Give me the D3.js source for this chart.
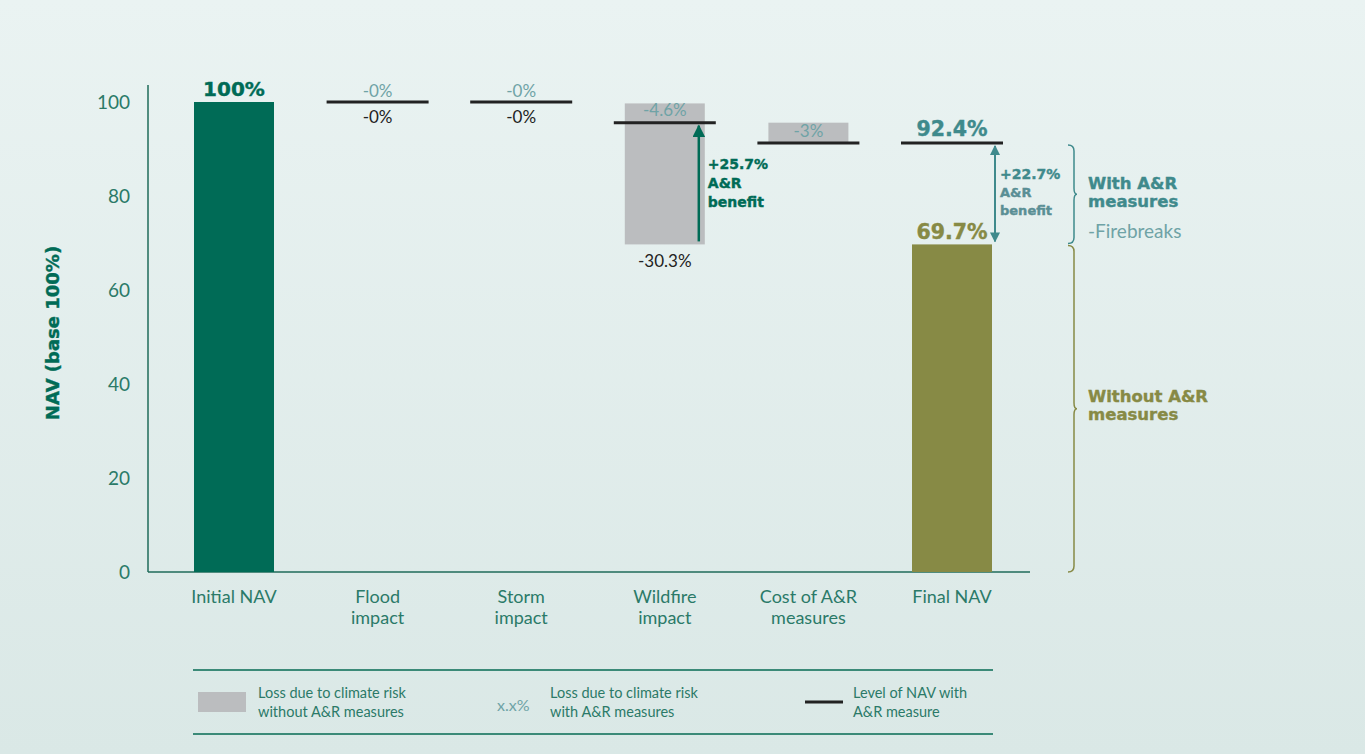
<!DOCTYPE html>
<html><head><meta charset="utf-8">
<script src="https://cdn.jsdelivr.net/npm/d3@7"></script>
<style>
html,body{margin:0;padding:0;}
body{width:1365px;height:754px;overflow:hidden;}
svg text{font-family:Lato,"Open Sans",sans-serif;}
svg text.b{font-family:"DejaVu Sans",sans-serif;font-weight:bold;stroke-width:0.4px;}
</style></head>
<body>
<svg id="c" width="1365" height="754"></svg>
<script>
const categories = ["Initial NAV","Flood impact","Storm impact","Wildfire impact","Cost of A&R measures","Final NAV"];
const categoryLines = [["Initial NAV"],["Flood","impact"],["Storm","impact"],["Wildfire","impact"],["Cost of A&R","measures"],["Final NAV"]];
const solidValues = [100, null, null, null, null, 69.7];
const grayFrom = [null, null, null, 99.7, 95.6, null];
const grayTo = [null, null, null, 69.7, 91.3, null];
const levelWith = [null, 100, 100, 95.6, 91.3, 91.3];
const lossWithLabels = [null, "-0%", "-0%", "-4.6%", "-3%", null];
const lossWithoutLabels = [null, "-0%", "-0%", "-30.3%", null, null];
const valueLabels = ["100%", null, null, null, null, "69.7%"];
const finalWithLabel = "92.4%";
const yTicks = [0, 20, 40, 60, 80, 100];
const benefitWildfire = {value: "+25.7%", from: 69.7, to: 95.6};
const benefitFinal = {value: "+22.7%", from: 69.7, to: 91.3};

const svg = d3.select("#c");
const defs = svg.append("defs");
const g = defs.append("linearGradient").attr("id","bg").attr("x1",0).attr("y1",0).attr("x2",0).attr("y2",1);
g.append("stop").attr("offset","0%").attr("stop-color","#eaf3f2");
g.append("stop").attr("offset","100%").attr("stop-color","#dae8e6");
svg.append("rect").attr("width",1365).attr("height",754).attr("fill","url(#bg)");

const GREEN="#006b56", TEAL="#3f8a8c", LTEAL="#6fa3a6", OLIVE="#878a45", GRAY="#bbbdbf", AXC="#2b7a68";

const y = d3.scaleLinear().domain([0,100]).range([572,102]);
const x = d3.scalePoint().domain(categories).range([234,952]);
const barW = 80, lineW = 102;

function bold(sel, color){ return sel.attr("class","b").attr("fill",color).attr("stroke",color); }

// y axis
const yAxis = d3.axisLeft(y).tickValues(yTicks).tickSize(0).tickPadding(18);
const ya = svg.append("g").attr("transform","translate(148,0)").call(yAxis);
ya.select(".domain").remove();
ya.selectAll("text").attr("fill",AXC).attr("font-size",19).style("font-family","Lato,sans-serif");
svg.append("line").attr("x1",148).attr("x2",148).attr("y1",85).attr("y2",y(0)).attr("stroke","#1f6b5a").attr("stroke-width",1.5);
svg.append("line").attr("x1",148).attr("x2",1030).attr("y1",y(0)).attr("y2",y(0)).attr("stroke","#1f6b5a").attr("stroke-width",1.5);

bold(svg.append("text"),GREEN).attr("transform","translate(59,333) rotate(-90)").attr("text-anchor","middle")
  .attr("font-size",18).text("NAV (base 100%)");

// category labels
categories.forEach((c,i)=>{
  const t = svg.append("text").attr("x",x(c)).attr("y",603).attr("text-anchor","middle").attr("fill",AXC).attr("font-size",18);
  categoryLines[i].forEach((l,j)=>t.append("tspan").attr("x",x(c)).attr("dy",j?21:0).text(l));
});

// gray loss bars
categories.forEach((c,i)=>{
  if(grayFrom[i]!=null){
    svg.append("rect").attr("x",x(c)-barW/2).attr("width",barW)
      .attr("y",y(grayFrom[i])).attr("height",y(grayTo[i])-y(grayFrom[i])).attr("fill",GRAY);
  }
});
// solid bars
categories.forEach((c,i)=>{
  if(solidValues[i]!=null){
    svg.append("rect").attr("x",x(c)-barW/2).attr("width",barW)
      .attr("y",y(solidValues[i])).attr("height",y(0)-y(solidValues[i])).attr("fill",i===0?GREEN:OLIVE);
  }
});
// level lines
categories.forEach((c,i)=>{
  if(levelWith[i]!=null){
    svg.append("line").attr("x1",x(c)-lineW/2).attr("x2",x(c)+lineW/2)
      .attr("y1",y(levelWith[i])).attr("y2",y(levelWith[i])).attr("stroke","#222").attr("stroke-width",3);
  }
});
// loss labels
categories.forEach((c,i)=>{
  if(lossWithLabels[i]!=null){
    let yy;
    if(i===1||i===2) yy = y(levelWith[i]) - 5;
    else if(i===3) yy = y(levelWith[i]) - 7;
    else yy = y(grayTo[i]) - 6;
    svg.append("text").attr("x",x(c)).attr("y",yy).attr("text-anchor","middle").attr("fill",LTEAL).attr("font-size",17).text(lossWithLabels[i]);
  }
  if(lossWithoutLabels[i]!=null){
    let yy = (i===3) ? y(grayTo[i]) + 23 : y(levelWith[i]) + 21;
    svg.append("text").attr("x",x(c)).attr("y",yy).attr("text-anchor","middle").attr("fill","#222").attr("font-size",17).text(lossWithoutLabels[i]);
  }
});
// value labels
bold(svg.append("text"),GREEN).attr("x",x(categories[0])).attr("y",y(solidValues[0])-6).attr("text-anchor","middle")
  .attr("font-size",20).text(valueLabels[0]);
bold(svg.append("text"),TEAL).attr("x",x(categories[5])).attr("y",y(levelWith[5])-7).attr("text-anchor","middle")
  .attr("font-size",20.5).text(finalWithLabel);
bold(svg.append("text"),OLIVE).attr("x",x(categories[5])).attr("y",y(solidValues[5])-5).attr("text-anchor","middle")
  .attr("font-size",20.5).text(valueLabels[5]);

// arrows
function mk(id,color){
  defs.append("marker").attr("id",id).attr("viewBox","0 0 10 10").attr("refX",9).attr("refY",5)
    .attr("markerWidth",5).attr("markerHeight",5).attr("orient","auto-start-reverse")
    .append("path").attr("d","M0,0L10,5L0,10z").attr("fill",color);
}
mk("ag",GREEN); mk("at",TEAL);
const ax1 = x(categories[3]) + 34;
svg.append("line").attr("x1",ax1).attr("x2",ax1).attr("y1",y(benefitWildfire.from)-3).attr("y2",y(benefitWildfire.to)+3)
  .attr("stroke",GREEN).attr("stroke-width",2.5).attr("marker-end","url(#ag)");
const t1 = bold(svg.append("text"),GREEN).attr("x",ax1+9).attr("y",169).attr("font-size",14);
[benefitWildfire.value,"A&R","benefit"].forEach((l,j)=>t1.append("tspan").attr("x",ax1+9).attr("dy",j?19:0).text(l));

const ax2 = x(categories[5]) + 43;
svg.append("line").attr("x1",ax2).attr("x2",ax2).attr("y1",y(benefitFinal.from)-3).attr("y2",y(benefitFinal.to)+3)
  .attr("stroke",TEAL).attr("stroke-width",2).attr("marker-end","url(#at)").attr("marker-start","url(#at)");
const t2 = bold(svg.append("text"),TEAL).attr("x",ax2+5).attr("y",179).attr("font-size",14);
[benefitFinal.value,"A&R","benefit"].forEach((l,j)=>t2.append("tspan").attr("x",ax2+5).attr("dy",j?18:0)
  .attr("font-size",j?13:14).attr("fill",j?"#5a8f95":TEAL).attr("stroke",j?"#5a8f95":TEAL).text(l));

// braces
function brace(x0,y0,y1,color){
  const m=(y0+y1)/2, w=9, r=6;
  const p = `M${x0},${y0} Q${x0+r},${y0} ${x0+r},${y0+r} L${x0+r},${m-r} Q${x0+r},${m} ${x0+w},${m} Q${x0+r},${m} ${x0+r},${m+r} L${x0+r},${y1-r} Q${x0+r},${y1} ${x0},${y1}`;
  svg.append("path").attr("d",p).attr("fill","none").attr("stroke",color).attr("stroke-width",1.5);
}
brace(1068, y(benefitFinal.to)+2, y(benefitFinal.from)-1, TEAL);
brace(1068, y(benefitFinal.from)+1, y(0), OLIVE);

const t3 = bold(svg.append("text"),TEAL).attr("x",1088).attr("y",189).attr("font-size",16.5);
["With A&R","measures"].forEach((l,j)=>t3.append("tspan").attr("x",1088).attr("dy",j?18:0).text(l));
svg.append("text").attr("x",1088).attr("y",238).attr("fill",LTEAL).attr("font-size",19).text("-Firebreaks");
const t4 = bold(svg.append("text"),OLIVE).attr("x",1088).attr("y",402).attr("font-size",16.5);
["Without A&R","measures"].forEach((l,j)=>t4.append("tspan").attr("x",1088).attr("dy",j?18:0).text(l));

// legend
svg.append("line").attr("x1",193).attr("x2",993).attr("y1",670).attr("y2",670).attr("stroke","#3b8a78").attr("stroke-width",2);
svg.append("line").attr("x1",193).attr("x2",993).attr("y1",734).attr("y2",734).attr("stroke","#3b8a78").attr("stroke-width",2);
svg.append("rect").attr("x",198).attr("y",692).attr("width",48).attr("height",20).attr("fill",GRAY);
function legText(xx,lines,color){
  const t = svg.append("text").attr("x",xx).attr("y",698).attr("fill",color||AXC).attr("font-size",14.5);
  lines.forEach((l,j)=>t.append("tspan").attr("x",xx).attr("dy",j?19:0).text(l));
}
legText(258,["Loss due to climate risk","without A&R measures"]);
svg.append("text").attr("x",497).attr("y",711).attr("fill",LTEAL).attr("font-size",16).text("x.x%");
legText(550,["Loss due to climate risk","with A&R measures"]);
svg.append("line").attr("x1",805).attr("x2",843).attr("y1",702).attr("y2",702).attr("stroke","#222").attr("stroke-width",3);
legText(853,["Level of NAV with","A&R measure"]);
</script>
</body></html>
